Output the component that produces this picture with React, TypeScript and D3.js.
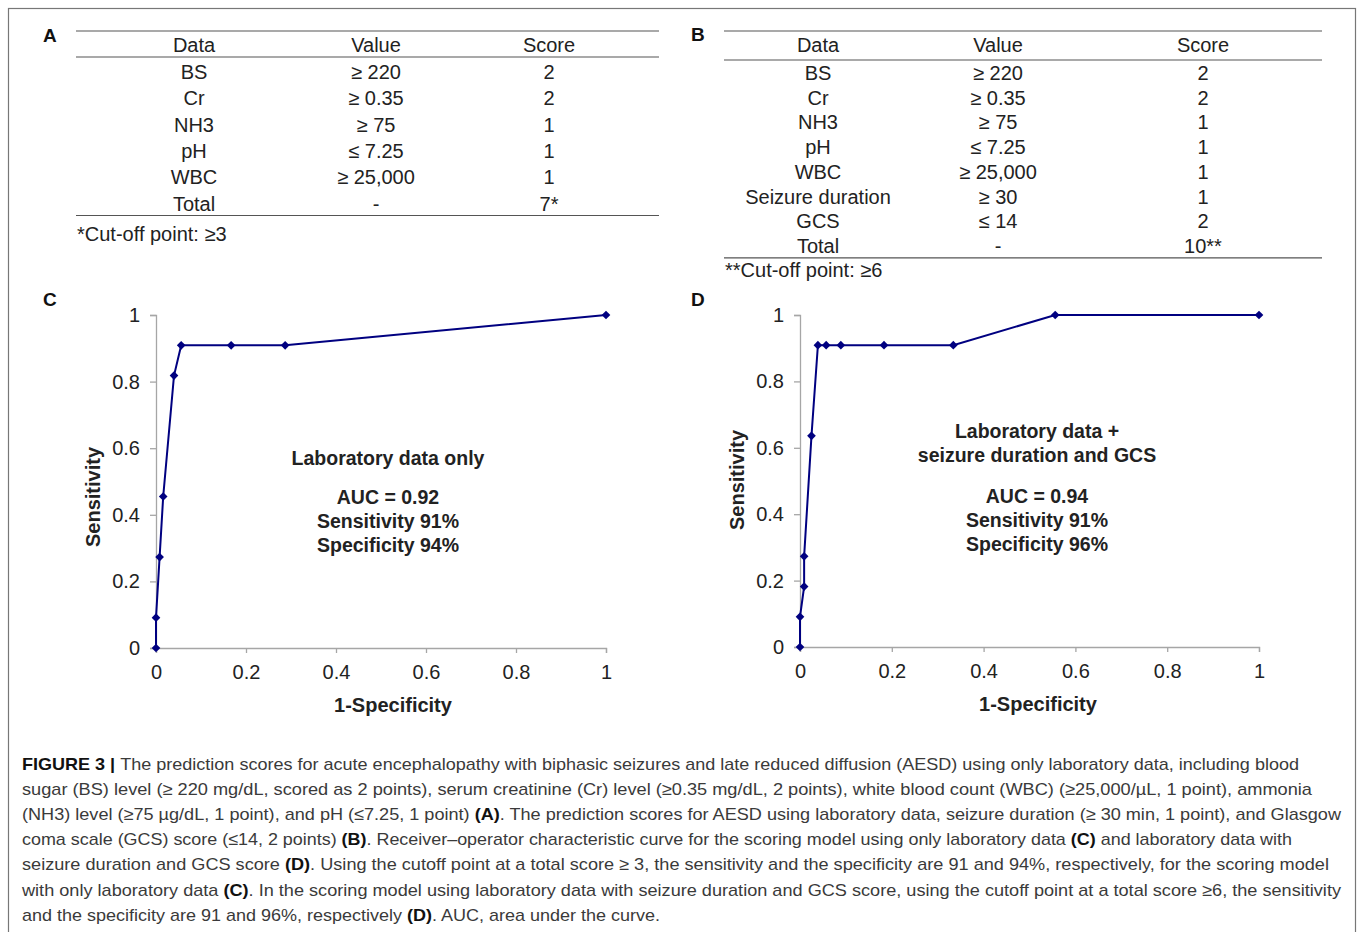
import React, { useEffect, useRef } from "react";
import * as d3 from "d3";

// Table A: laboratory data only
const tableAData = ["BS", "Cr", "NH3", "pH", "WBC", "Total"];
const tableAValue = ["≥ 220", "≥ 0.35", "≥ 75", "≤ 7.25", "≥ 25,000", "-"];
const tableAScore = ["2", "2", "1", "1", "1", "7*"];

// Table B: laboratory data + seizure duration and GCS
const tableBData = ["BS", "Cr", "NH3", "pH", "WBC", "Seizure duration", "GCS", "Total"];
const tableBValue = ["≥ 220", "≥ 0.35", "≥ 75", "≤ 7.25", "≥ 25,000", "≥ 30", "≤ 14", "-"];
const tableBScore = ["2", "2", "1", "1", "1", "1", "2", "10**"];

// ROC curves (1-specificity, sensitivity)
const rocCX = [0, 0, 0.008, 0.016, 0.04, 0.056, 0.167, 0.287, 1];
const rocCY = [0, 0.091, 0.273, 0.455, 0.818, 0.909, 0.909, 0.909, 1];
const rocDX = [0, 0, 0.009, 0.009, 0.025, 0.039, 0.057, 0.089, 0.183, 0.334, 0.556, 1];
const rocDY = [0, 0.091, 0.182, 0.273, 0.636, 0.909, 0.909, 0.909, 0.909, 0.909, 1, 1];

const axisTicks = [0, 0.2, 0.4, 0.6, 0.8, 1];

const FONT = "'Liberation Sans', Arial, sans-serif";

const RocChart = ({ xs, ys, x0, x1, y0, y1, labelX, yLabelY, xLabelX, title, stats }) => {
  const gRef = useRef(null);

  useEffect(() => {
    const g = d3.select(gRef.current);
    g.selectAll("*").remove();

    const xScale = d3.scaleLinear().domain([0, 1]).range([x0, x1]);
    const yScale = d3.scaleLinear().domain([0, 1]).range([y0, y1]);
    const fmt = d3.format("~g");

    const yAxis = g
      .append("g")
      .attr("transform", `translate(${x0},0)`)
      .call(d3.axisLeft(yScale).tickValues(axisTicks).tickFormat(fmt).tickSize(6).tickPadding(10));
    const xAxis = g
      .append("g")
      .attr("transform", `translate(0,${y0})`)
      .call(d3.axisBottom(xScale).tickValues(axisTicks).tickFormat(fmt).tickSize(5).tickPadding(12));

    [yAxis, xAxis].forEach((ax) => {
      ax.select(".domain").attr("stroke", "#a6a6a6").attr("stroke-width", 1.3);
      ax.selectAll(".tick line").attr("stroke", "#a6a6a6").attr("stroke-width", 1.3);
      ax.selectAll("text")
        .attr("fill", "#222")
        .style("font-size", "20px")
        .style("font-family", FONT);
    });

    const pts = xs.map((x, i) => [x, ys[i]]);
    const line = d3
      .line()
      .x((d) => xScale(d[0]))
      .y((d) => yScale(d[1]));

    g.append("path")
      .datum(pts)
      .attr("fill", "none")
      .attr("stroke", "#000080")
      .attr("stroke-width", 2)
      .attr("d", line);

    const diamond = d3.symbol().type(d3.symbolDiamond2).size(48);
    g.selectAll(".pt")
      .data(pts)
      .join("path")
      .attr("class", "pt")
      .attr("transform", (d) => `translate(${xScale(d[0])},${yScale(d[1])})`)
      .attr("d", diamond)
      .attr("fill", "#000080");
  }, [xs, ys, x0, x1, y0, y1]);

  const cx = labelX;
  return (
    <g>
      <g ref={gRef} />
      <text
        transform={`translate(${x0 - 56},${yLabelY}) rotate(-90)`}
        textAnchor="middle"
        fontFamily={FONT}
        fontWeight="bold"
        fontSize={20}
        fill="#222"
      >
        Sensitivity
      </text>
      <text
        x={xLabelX}
        y={y0 + 64}
        textAnchor="middle"
        fontFamily={FONT}
        fontWeight="bold"
        fontSize={20}
        fill="#222"
      >
        1-Specificity
      </text>
      {title.map((t, i) => (
        <text
          key={"t" + i}
          x={cx}
          y={title.length === 1 ? 465 : 438 + i * 24}
          textAnchor="middle"
          fontFamily={FONT}
          fontWeight="bold"
          fontSize={19.5}
          fill="#222"
        >
          {t}
        </text>
      ))}
      {stats.map((t, i) => (
        <text
          key={"s" + i}
          x={cx}
          y={(title.length === 1 ? 504 : 503) + i * 24}
          textAnchor="middle"
          fontFamily={FONT}
          fontWeight="bold"
          fontSize={19.5}
          fill="#222"
        >
          {t}
        </text>
      ))}
    </g>
  );
};

const ScoreTable = ({ left, right, top, headerLine, rowY, cols, data, value, score, note, noteY }) => {
  const rows = data.map((d, i) => [d, value[i], score[i]]);
  return (
    <g fontFamily={FONT} fontSize={20} fill="#222">
      <line x1={left} x2={right} y1={top} y2={top} stroke="#555" strokeWidth={1.2} />
      <line x1={left} x2={right} y1={headerLine} y2={headerLine} stroke="#555" strokeWidth={1.2} />
      {["Data", "Value", "Score"].map((h, j) => (
        <text key={h} x={cols[j]} y={top + 21} textAnchor="middle">
          {h}
        </text>
      ))}
      {rows.map((r, i) => (
        <g key={i}>
          {r.map((c, j) => (
            <text key={j} x={cols[j]} y={rowY(i) + 7} textAnchor="middle">
              {c}
            </text>
          ))}
        </g>
      ))}
      <line
        x1={left}
        x2={right}
        y1={rowY(rows.length - 1) + 12}
        y2={rowY(rows.length - 1) + 12}
        stroke="#555"
        strokeWidth={1.2}
      />
      <text x={left + 1} y={noteY}>
        {note}
      </text>
    </g>
  );
};

// caption: each line is a list of [text, bold]
const captionLines = [
  [["FIGURE 3 | ", true], ["The prediction scores for acute encephalopathy with biphasic seizures and late reduced diffusion (AESD) using only laboratory data, including blood", false]],
  [["sugar (BS) level (≥ 220 mg/dL, scored as 2 points), serum creatinine (Cr) level (≥0.35 mg/dL, 2 points), white blood count (WBC) (≥25,000/µL, 1 point), ammonia", false]],
  [["(NH3) level (≥75 µg/dL, 1 point), and pH (≤7.25, 1 point) ", false], ["(A)", true], [". The prediction scores for AESD using laboratory data, seizure duration (≥ 30 min, 1 point), and Glasgow", false]],
  [["coma scale (GCS) score (≤14, 2 points) ", false], ["(B)", true], [". Receiver–operator characteristic curve for the scoring model using only laboratory data ", false], ["(C)", true], [" and laboratory data with", false]],
  [["seizure duration and GCS score ", false], ["(D)", true], [". Using the cutoff point at a total score ≥ 3, the sensitivity and the specificity are 91 and 94%, respectively, for the scoring model", false]],
  [["with only laboratory data ", false], ["(C)", true], [". In the scoring model using laboratory data with seizure duration and GCS score, using the cutoff point at a total score ≥6, the sensitivity", false]],
  [["and the specificity are 91 and 96%, respectively ", false], ["(D)", true], [". AUC, area under the curve.", false]],
];
const captionWidths = [1277, 1290, 1319, 1270, 1307, 1319, 638];

export default function App() {
  return (
    <svg
      width={1358}
      height={932}
      style={{ position: "absolute", left: 0, top: 0, background: "#fff" }}
    >
      <rect x={8.5} y={8.5} width={1347} height={940} fill="none" stroke="#777" strokeWidth={1.2} />

      <g fontFamily={FONT} fontWeight="bold" fontSize={19} fill="#111">
        <text x={43} y={42}>A</text>
        <text x={691} y={41}>B</text>
        <text x={43} y={306}>C</text>
        <text x={691} y={306}>D</text>
      </g>

      <ScoreTable
        left={76}
        right={659}
        top={31}
        headerLine={57}
        rowY={(i) => 72 + i * 26.3}
        cols={[194, 376, 549]}
        data={tableAData}
        value={tableAValue}
        score={tableAScore}
        note="*Cut-off point: ≥3"
        noteY={241}
      />
      <ScoreTable
        left={724}
        right={1322}
        top={31}
        headerLine={60}
        rowY={(i) => 73 + i * 24.7}
        cols={[818, 998, 1203]}
        data={tableBData}
        value={tableBValue}
        score={tableBScore}
        note="**Cut-off point: ≥6"
        noteY={277}
      />

      <RocChart
        xs={rocCX}
        ys={rocCY}
        x0={156}
        x1={606}
        y0={648}
        y1={315}
        labelX={388}
        yLabelY={497}
        xLabelX={393}
        title={["Laboratory data only"]}
        stats={["AUC = 0.92", "Sensitivity 91%", "Specificity 94%"]}
      />
      <RocChart
        xs={rocDX}
        ys={rocDY}
        x0={800}
        x1={1259}
        y0={647}
        y1={315}
        labelX={1037}
        yLabelY={480}
        xLabelX={1038}
        title={["Laboratory data +", "seizure duration and GCS"]}
        stats={["AUC = 0.94", "Sensitivity 91%", "Specificity 96%"]}
      />

      <g fontFamily={FONT} fontSize={17} fill="#3a3a3a">
        {captionLines.map((ln, i) => (
          <text
            key={i}
            x={22}
            y={770 + i * 25.1}
            textLength={captionWidths[i]}
            lengthAdjust="spacingAndGlyphs"
          >
            {ln.map(([t, b], j) => (
              <tspan key={j} fontWeight={b ? "bold" : "normal"} fill={b ? "#111" : "#3a3a3a"}>
                {t}
              </tspan>
            ))}
          </text>
        ))}
      </g>
    </svg>
  );
}
